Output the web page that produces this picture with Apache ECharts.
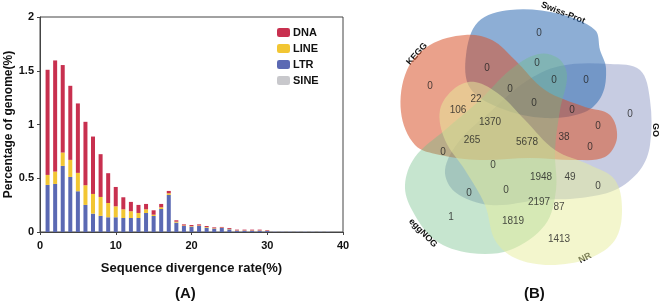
<!DOCTYPE html>
<html>
<head>
<meta charset="utf-8">
<script src="https://cdn.jsdelivr.net/npm/echarts@6/dist/echarts.min.js"></script>
<style>
html, body { margin: 0; padding: 0; background: #fff; }
#main { width: 660px; height: 304px; }
</style>
</head>
<body>
<div id="main"></div>
<script>
var chart = echarts.init(document.getElementById('main'));

// (A) divergence bins 0..40 (bars at 1..38), % of genome per class
var divergence = [];
for (var i = 0; i <= 40; i++) divergence.push(i);
var ltrData = [0, 0.438, 0.447, 0.615, 0.512, 0.379, 0.252, 0.171, 0.150, 0.137, 0.137,
    0.130, 0.130, 0.130, 0.177, 0.149, 0.214, 0.345, 0.087, 0.056, 0.050,
    0.056, 0.040, 0.031, 0.037, 0.025, 0.012, 0.012, 0.012, 0.012, 0.010,
    0.004, 0.004, 0.004, 0.004, 0.003, 0.003, 0.003, 0.003, 0, 0];
var lineData = [0, 0.093, 0.115, 0.124, 0.159, 0.171, 0.183, 0.183, 0.176, 0.133, 0.102,
    0.081, 0.063, 0.047, 0.034, 0.012, 0.016, 0.015, 0.009, 0.005, 0.005,
    0.005, 0.006, 0.004, 0.004, 0.004, 0.003, 0.003, 0.003, 0.003, 0.003,
    0, 0, 0, 0, 0, 0, 0, 0, 0, 0];
var dnaData = [0, 0.978, 1.034, 0.814, 0.689, 0.646, 0.590, 0.534, 0.398, 0.277, 0.180,
    0.112, 0.087, 0.075, 0.050, 0.041, 0.031, 0.022, 0.013, 0.010, 0.010,
    0.010, 0.010, 0.008, 0.006, 0.008, 0.007, 0.007, 0.007, 0.007, 0.005,
    0, 0, 0, 0, 0, 0, 0, 0, 0, 0];
var sineData = [0, 0, 0, 0, 0, 0, 0, 0, 0, 0, 0,
    0, 0, 0, 0, 0, 0, 0, 0, 0, 0,
    0, 0, 0, 0, 0, 0, 0, 0, 0, 0,
    0.004, 0.004, 0.004, 0.004, 0.004, 0.004, 0.004, 0.004, 0, 0];

// (B) venn region counts
var vennSets = ['GO', 'Swiss-Prot', 'KEGG', 'eggNOG', 'NR'];
var vennCounts = [0, 0, 0, 0, 0, 0, 0, 0, 0, 0, 0, 22, 106, 1370, 265, 5678, 38, 0, 0, 0,
    1948, 49, 0, 0, 0, 2197, 87, 1, 1819, 1413];

// layout of the venn (local px inside the venn grid)
var vennLabelPos = [[35, 86], [144, 33], [92, 68], [142, 63], [159, 80], [191, 80], [115, 89],
    [139, 103], [177, 110], [235, 114], [203, 126], [81, 99], [63, 110], [95, 122], [77, 140],
    [132, 142], [169, 137], [195, 147], [48, 152], [98, 165], [146, 177], [175, 177], [203, 186],
    [74, 193], [111, 190], [144, 202], [164, 207], [56, 217], [118, 221], [164, 239]];
var vennShapes = {
    'GO': [[50, 170], [65, 140], [95, 112], [130, 82], [165, 66], [215, 64], [245, 70], [255, 100],
        [255, 145], [245, 170], [220, 190], [185, 198], [145, 200], [95, 205], [60, 192]],
    'Swiss-Prot': [[83, 22], [115, 10], [165, 14], [200, 30], [205, 50], [211, 68], [207, 95],
        [190, 112], [150, 118], [105, 108], [75, 88], [71, 55]],
    'KEGG': [[6, 112], [12, 70], [35, 45], [70, 35], [97, 40], [120, 60], [150, 90], [190, 107],
        [215, 115], [222, 138], [210, 157], [180, 160], [135, 158], [85, 160], [45, 155], [20, 145]],
    'eggNOG': [[10, 185], [20, 157], [50, 130], [85, 100], [115, 70], [143, 54], [163, 58], [172, 75],
        [165, 110], [160, 150], [161, 190], [150, 225], [115, 250], [75, 253], [40, 240], [17, 210]],
    'NR': [[45, 110], [60, 88], [80, 82], [105, 95], [130, 120], [160, 150], [195, 165], [220, 180],
        [227, 210], [220, 240], [195, 258], [155, 265], [120, 258], [100, 240], [90, 205], [70, 170], [50, 140]]
};
var vennColors = {
    'GO': 'rgba(130,142,190,0.45)',
    'Swiss-Prot': 'rgba(47,108,179,0.55)',
    'KEGG': 'rgba(217,84,43,0.55)',
    'eggNOG': 'rgba(112,191,134,0.4)',
    'NR': 'rgba(232,237,156,0.5)'
};

var font = 'Liberation Sans, Arial';

option = {
    animation: false,
    legend: {
        data: ['DNA', 'LINE', 'LTR', 'SINE'],
        orient: 'vertical',
        left: 272,
        top: 22,
        itemWidth: 13,
        itemHeight: 9,
        itemGap: 5,
        textStyle: { fontFamily: font, fontWeight: 'bold', fontSize: 11, color: '#111', padding: [0, 0, 0, -2] }
    },
    grid: [
        { left: 40, top: 17, width: 303, height: 215, show: true, borderColor: '#444', borderWidth: 1, outerBoundsMode: 'none' },
        { left: 395, top: 0, width: 260, height: 270, outerBoundsMode: 'none' }
    ],
    xAxis: [{
        // bars sit on this one, aligned with the value axis below
        gridIndex: 0,
        type: 'category',
        position: 'bottom',
        boundaryGap: false,
        data: divergence,
        show: false
    }, {
        gridIndex: 0,
        type: 'value',
        position: 'bottom',
        min: 0, max: 40, interval: 10,
        name: 'Sequence divergence rate(%)',
        nameLocation: 'middle',
        nameGap: 30,
        nameTextStyle: { fontFamily: font, fontWeight: 'bold', fontSize: 13, color: '#111' },
        axisLine: { lineStyle: { color: '#444' } },
        axisTick: { length: 3, lineStyle: { color: '#444' } },
        axisLabel: { fontFamily: font, fontWeight: 'bold', fontSize: 11, color: '#111', margin: 8 },
        splitLine: { show: false }
    }, {
        gridIndex: 1, type: 'value', min: 0, max: 260, show: false
    }],
    yAxis: [{
        gridIndex: 0,
        type: 'value',
        min: 0, max: 2, interval: 0.5,
        name: 'Percentage of genome(%)',
        nameLocation: 'middle',
        nameGap: 25,
        nameTextStyle: { fontFamily: font, fontWeight: 'bold', fontSize: 12, color: '#111' },
        axisLine: { show: true, lineStyle: { color: '#444' } },
        axisTick: { show: true, length: 3, lineStyle: { color: '#444' } },
        axisLabel: { fontFamily: font, fontWeight: 'bold', fontSize: 11, color: '#111', margin: 6 },
        splitLine: { show: false }
    }, {
        gridIndex: 1, type: 'value', min: 0, max: 270, inverse: true, show: false
    }],
    series: [
        { name: 'LTR', type: 'bar', stack: 'te', barWidth: 4, data: ltrData, itemStyle: { color: '#5B69B3' } },
        { name: 'LINE', type: 'bar', stack: 'te', barWidth: 4, data: lineData, itemStyle: { color: '#F2C633' } },
        { name: 'DNA', type: 'bar', stack: 'te', barWidth: 4, data: dnaData, itemStyle: { color: '#C8304F' } },
        { name: 'SINE', type: 'bar', stack: 'te', barWidth: 4, data: sineData, itemStyle: { color: '#C8C8CC' } },
        {
            name: 'venn',
            type: 'custom',
            xAxisIndex: 2, yAxisIndex: 1,
            silent: true,
            data: vennSets.map(function (s, k) { return [k]; }),
            renderItem: function (params, api) {
                var set = vennSets[api.value(0)];
                var pts = vennShapes[set].map(function (p) { return api.coord(p); });
                return {
                    type: 'polygon',
                    shape: { points: pts, smooth: 0.35 },
                    style: { fill: vennColors[set], stroke: null }
                };
            }
        },
        {
            name: 'counts',
            type: 'scatter',
            xAxisIndex: 2, yAxisIndex: 1,
            symbolSize: 1,
            silent: true,
            itemStyle: { color: 'transparent' },
            data: vennCounts.map(function (c, k) { return [vennLabelPos[k][0], vennLabelPos[k][1], c]; }),
            label: {
                show: true,
                position: 'inside',
                formatter: function (p) { return p.value[2]; },
                fontFamily: font,
                fontSize: 10,
                color: '#222'
            }
        }
    ],
    graphic: [
        { type: 'text', left: 175, top: 286, style: { text: '(A)', fontFamily: font, fontWeight: 'bold', fontSize: 15, fill: '#111' } },
        { type: 'text', left: 524, top: 286, style: { text: '(B)', fontFamily: font, fontWeight: 'bold', fontSize: 15, fill: '#111' } },
        { type: 'text', x: 563, y: 13, rotation: -0.38, style: { text: 'Swiss-Prot', fontFamily: font, fontWeight: 'bold', fontSize: 9, fill: '#111', align: 'center', verticalAlign: 'middle' } },
        { type: 'text', x: 417, y: 54, rotation: 0.85, style: { text: 'KEGG', fontFamily: font, fontWeight: 'bold', fontSize: 9, fill: '#111', align: 'center', verticalAlign: 'middle' } },
        { type: 'text', x: 655, y: 130, rotation: -Math.PI / 2, style: { text: 'GO', fontFamily: font, fontWeight: 'bold', fontSize: 9, fill: '#111', align: 'center', verticalAlign: 'middle' } },
        { type: 'text', x: 423, y: 233, rotation: -0.8, style: { text: 'eggNOG', fontFamily: font, fontWeight: 'bold', fontSize: 9, fill: '#111', align: 'center', verticalAlign: 'middle' } },
        { type: 'text', x: 585, y: 258, rotation: 0.5, style: { text: 'NR', fontFamily: font, fontWeight: 'bold', fontSize: 9, fill: '#111', align: 'center', verticalAlign: 'middle' } }
    ]
};

chart.setOption(option);
</script>
</body>
</html>
